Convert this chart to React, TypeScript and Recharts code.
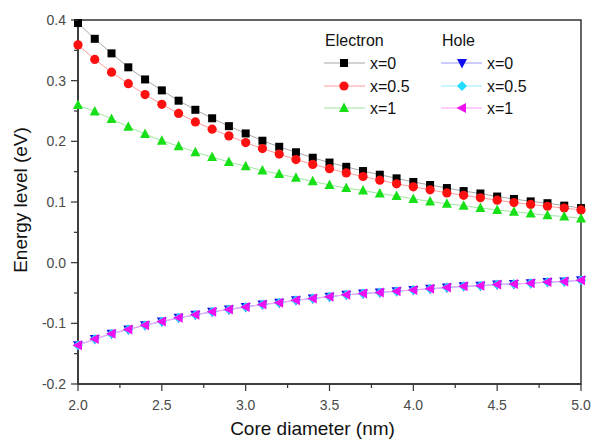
import React from 'react';
import { LineChart, Line, XAxis, YAxis, ReferenceArea, Label } from 'recharts';

const diameters = [2.0, 2.1, 2.2, 2.3, 2.4, 2.5, 2.6, 2.7, 2.8, 2.9, 3.0, 3.1, 3.2, 3.3, 3.4, 3.5, 3.6, 3.7, 3.8, 3.9, 4.0, 4.1, 4.2, 4.3, 4.4, 4.5, 4.6, 4.7, 4.8, 4.9, 5.0];

const electronX0 = [0.395, 0.369, 0.345, 0.322, 0.302, 0.284, 0.267, 0.252, 0.238, 0.225, 0.213, 0.201, 0.191, 0.182, 0.173, 0.165, 0.158, 0.151, 0.145, 0.139, 0.133, 0.128, 0.123, 0.118, 0.114, 0.109, 0.105, 0.101, 0.098, 0.094, 0.090];
const electronX05 = [0.359, 0.335, 0.314, 0.295, 0.277, 0.261, 0.246, 0.232, 0.220, 0.209, 0.198, 0.188, 0.179, 0.170, 0.162, 0.155, 0.148, 0.142, 0.136, 0.130, 0.125, 0.120, 0.115, 0.111, 0.107, 0.103, 0.099, 0.096, 0.093, 0.090, 0.087];
const electronX1 = [0.260, 0.249, 0.237, 0.224, 0.212, 0.201, 0.192, 0.182, 0.174, 0.166, 0.159, 0.152, 0.146, 0.140, 0.134, 0.128, 0.123, 0.119, 0.114, 0.110, 0.105, 0.101, 0.097, 0.094, 0.090, 0.087, 0.084, 0.081, 0.078, 0.076, 0.073];
const holeX0 = [-0.136, -0.126, -0.117, -0.110, -0.103, -0.097, -0.091, -0.086, -0.081, -0.077, -0.073, -0.069, -0.066, -0.062, -0.059, -0.056, -0.053, -0.051, -0.049, -0.047, -0.045, -0.043, -0.041, -0.039, -0.038, -0.036, -0.035, -0.034, -0.032, -0.031, -0.029];
const holeX05 = [-0.136, -0.126, -0.117, -0.110, -0.103, -0.097, -0.091, -0.086, -0.081, -0.077, -0.073, -0.069, -0.066, -0.062, -0.059, -0.056, -0.053, -0.051, -0.049, -0.047, -0.045, -0.043, -0.041, -0.039, -0.038, -0.036, -0.035, -0.034, -0.032, -0.031, -0.029];
const holeX1 = [-0.136, -0.126, -0.117, -0.110, -0.103, -0.097, -0.091, -0.086, -0.081, -0.077, -0.073, -0.069, -0.066, -0.062, -0.059, -0.056, -0.053, -0.051, -0.049, -0.047, -0.045, -0.043, -0.041, -0.039, -0.038, -0.036, -0.035, -0.034, -0.032, -0.031, -0.029];

const xTicks = [2.0, 2.25, 2.5, 2.75, 3.0, 3.25, 3.5, 3.75, 4.0, 4.25, 4.5, 4.75, 5.0];
const yTicks = [-0.2, -0.15, -0.1, -0.05, 0.0, 0.05, 0.1, 0.15, 0.2, 0.25, 0.3, 0.35, 0.4];

const data = diameters.map((d, i) => ({
  d,
  e0: electronX0[i],
  e05: electronX05[i],
  e1: electronX1[i],
  h0: holeX0[i],
  h05: holeX05[i],
  h1: holeX1[i],
}));

type Shape = 'square' | 'circle' | 'up' | 'down' | 'diamond' | 'left';

const series: { key: string; label: string; shape: Shape; color: string; line: string; group: string }[] = [
  { key: 'e0', label: 'x=0', shape: 'square', color: '#000000', line: '#a8a8a8', group: 'Electron' },
  { key: 'e05', label: 'x=0.5', shape: 'circle', color: '#ff1010', line: '#ff9c9c', group: 'Electron' },
  { key: 'e1', label: 'x=1', shape: 'up', color: '#18e018', line: '#9ee89e', group: 'Electron' },
  { key: 'h0', label: 'x=0', shape: 'down', color: '#1010ee', line: '#9a9aff', group: 'Hole' },
  { key: 'h05', label: 'x=0.5', shape: 'diamond', color: '#22ddff', line: '#9aeeff', group: 'Hole' },
  { key: 'h1', label: 'x=1', shape: 'left', color: '#ee10ee', line: '#ff9aff', group: 'Hole' },
];

const marker = (shape: Shape, cx: number, cy: number, color: string, key?: string) => {
  switch (shape) {
    case 'square':
      return <rect key={key} x={cx - 4} y={cy - 4} width={8} height={8} fill={color} />;
    case 'circle':
      return <circle key={key} cx={cx} cy={cy} r={4.6} fill={color} />;
    case 'up':
      return <polygon key={key} points={`${cx},${cy - 5.5} ${cx - 5},${cy + 4} ${cx + 5},${cy + 4}`} fill={color} />;
    case 'down':
      return <polygon key={key} points={`${cx - 5},${cy - 4} ${cx + 5},${cy - 4} ${cx},${cy + 5.5}`} fill={color} />;
    case 'diamond':
      return <polygon key={key} points={`${cx},${cy - 5} ${cx + 5},${cy} ${cx},${cy + 5} ${cx - 5},${cy}`} fill={color} />;
    case 'left':
    default:
      return <polygon key={key} points={`${cx - 5.5},${cy} ${cx + 4},${cy - 5} ${cx + 4},${cy + 5}`} fill={color} />;
  }
};

const FONT = 'Arial, "Liberation Sans", Helvetica, sans-serif';

const XTick = (props: any) => {
  const { x, y, payload } = props;
  const v = payload.value as number;
  const major = Math.abs(v * 2 - Math.round(v * 2)) < 1e-6;
  return (
    <g>
      <line x1={x} y1={y} x2={x} y2={y + (major ? 7 : 4)} stroke="#333" strokeWidth={1.2} />
      {major && (
        <text x={x} y={y + 26} textAnchor="middle" fill="#4a4a4a" fontSize={14} fontFamily={FONT}>
          {v.toFixed(1)}
        </text>
      )}
    </g>
  );
};

const YTick = (props: any) => {
  const { x, y, payload } = props;
  const v = payload.value as number;
  const major = Math.abs(v * 10 - Math.round(v * 10)) < 1e-6;
  return (
    <g>
      <line x1={x} y1={y} x2={x - (major ? 7 : 4)} y2={y} stroke="#333" strokeWidth={1.2} />
      {major && (
        <text x={x - 12} y={y + 5} textAnchor="end" fill="#4a4a4a" fontSize={14} fontFamily={FONT}>
          {v.toFixed(1)}
        </text>
      )}
    </g>
  );
};

const LegendBox = () => {
  const rows = [39, 62, 84];
  const cols = [
    { group: 'Electron', head: 7, lx1: 6, lx2: 47, mx: 26, tx: 52 },
    { group: 'Hole', head: 124, lx1: 123, lx2: 164, mx: 144, tx: 169 },
  ];
  return (
    <svg width={240} height={100} style={{ display: 'block' }}>
      {cols.map((c) => (
        <g key={c.group}>
          <text x={c.head} y={22} fontSize={16} fontFamily={FONT} fill="#111">{c.group}</text>
          {series
            .filter((s) => s.group === c.group)
            .map((s, i) => (
              <g key={s.key}>
                <line x1={c.lx1} x2={c.lx2} y1={rows[i]} y2={rows[i]} stroke={s.line} strokeWidth={1.2} />
                {marker(s.shape, c.mx, rows[i], s.color)}
                <text x={c.tx} y={rows[i] + 6} fontSize={16} fontFamily={FONT} fill="#111">{s.label}</text>
              </g>
            ))}
        </g>
      ))}
    </svg>
  );
};

export default function App() {
  return (
    <div style={{ position: 'absolute', left: 0, top: 0, width: 593, height: 440, background: '#fff' }}>
      <LineChart width={593} height={440} data={data} margin={{ top: 20, right: 12, left: 0, bottom: 0 }}>
        <XAxis
          dataKey="d"
          type="number"
          domain={[2, 5]}
          ticks={xTicks}
          interval={0}
          tick={<XTick />}
          tickLine={false}
          tickSize={0}
          tickMargin={0}
          height={56}
          axisLine={{ stroke: '#333', strokeWidth: 1.5 }}
        >
          <Label value="Core diameter (nm)" position="insideBottom" offset={5} dx={-17} fontSize={19} fontFamily={FONT} fill="#111" />
        </XAxis>
        <YAxis
          type="number"
          domain={[-0.2, 0.4]}
          ticks={yTicks}
          interval={0}
          tick={<YTick />}
          tickLine={false}
          tickSize={0}
          tickMargin={0}
          width={78}
          axisLine={{ stroke: '#333', strokeWidth: 1.5 }}
        >
          <Label value="Energy level (eV)" angle={-90} position="center" dx={-19} dy={-2} fontSize={19} fontFamily={FONT} fill="#111" />
        </YAxis>
        <ReferenceArea x1={2} x2={5} y1={-0.2} y2={0.4} fill="none" stroke="#333" strokeWidth={1.5} ifOverflow="visible" />
        {series.map((s) => (
          <Line
            key={s.key}
            dataKey={s.key}
            stroke={s.line}
            strokeWidth={1}
            isAnimationActive={false}
            dot={(p: any) => marker(s.shape, p.cx, p.cy, s.color, `${s.key}-${p.index}`)}
            activeDot={false}
          />
        ))}
      </LineChart>
      <div style={{ position: 'absolute', left: 318, top: 24 }}>
        <LegendBox />
      </div>
    </div>
  );
}
